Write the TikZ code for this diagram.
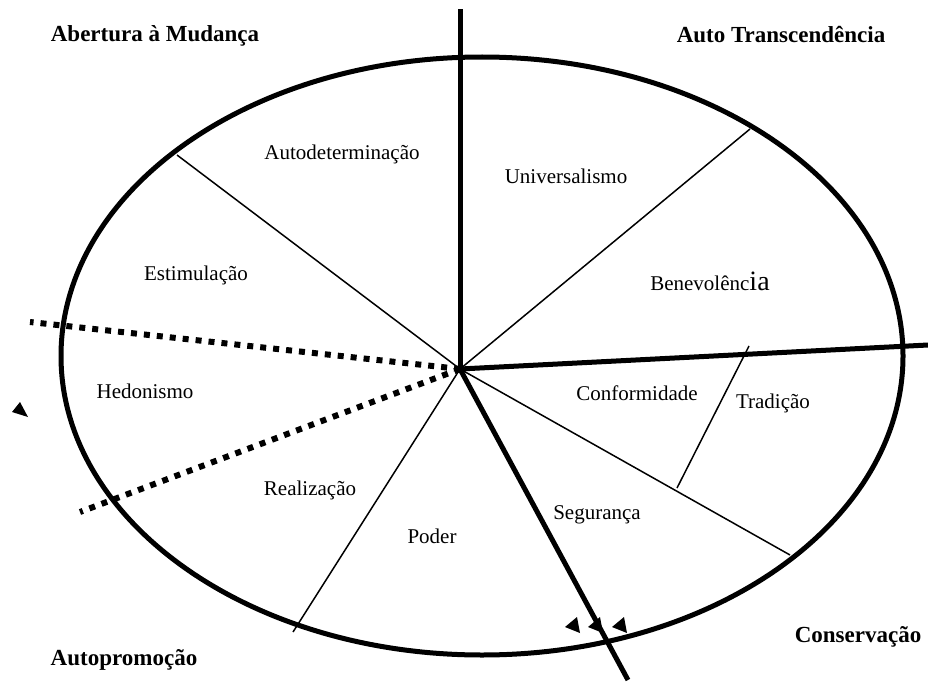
\documentclass[tikz,border=0pt]{standalone}
\usepackage{fontspec}
\setmainfont{Liberation Serif}
\begin{document}
\begin{tikzpicture}[x=1pt, y=-1pt, every node/.style={anchor=base, inner sep=0pt, font=\fontsize{21}{24}\selectfont}, quad/.style={font=\bfseries\fontsize{23}{26}\selectfont}, thickline/.style={line width=5pt}, thinline/.style={line width=1.5pt}, dotline/.style={line width=6pt, dash pattern=on 6pt off 7pt}]

				\useasboundingbox (0,0) rectangle (928,682);

				% centre and ends of the dividing lines
				\coordinate (C) at (460,369);
				\coordinate (T) at (460,9);
				\coordinate (E) at (928,345);
				\coordinate (S) at (628,680);
				\coordinate (UL) at (177,155);
				\coordinate (UR) at (750,129);
				\coordinate (LR) at (790,555);
				\coordinate (LL) at (293,632);
				\coordinate (DU) at (30,322);
				\coordinate (DL) at (80,512);
				\coordinate (TA) at (749,346);
				\coordinate (TB) at (677,488);

				\draw [thickline] (482,356) ellipse [x radius=421, y radius=299];

				\draw [thinline] (C) -- (UL);
				\draw [thinline] (C) -- (UR);
				\draw [thinline] (C) -- (LR);
				\draw [thinline] (C) -- (LL);
				\draw [thinline] (TA) -- (TB);

				\draw [thickline] (C) -- (T);
				\draw [thickline] (C) -- (E);
				\draw [thickline] (C) -- (S);

				\draw [dotline] (C) -- (DU);
				\draw [dotline] (C) -- (DL);

				\fill (12,412) -- (20,402) -- (28,417) -- cycle;
				\foreach \x in {565,588,612}
					\fill (\x,627) -- ++(12,-10) -- ++(3,16) -- cycle;

				\node [quad] (AM) at (155,42) {Abertura à Mudança};
				\node [quad] (AT) at (781,43) {Auto Transcendência};
				\node [quad] (AP) at (124,665) {Autopromoção};
				\node [quad] (CV) at (858,642) {Conservação};

				\node (AD) at (342,159) {Autodeterminação};
				\node (UN) at (566,183) {Universalismo};
				\node (ES) at (196,280) {Estimulação};
				\node (BE) at (710,290) {Benevolênc{\fontsize{28}{30}\selectfont ia}};
				\node (HE) at (145,398) {Hedonismo};
				\node (CF) at (637,400) {Conformidade};
				\node (TR) at (773,408) {Tradição};
				\node (RE) at (310,495) {Realização};
				\node (PO) at (432,543) {Poder};
				\node (SE) at (597,519) {Segurança};

			\end{tikzpicture}
\end{document}
